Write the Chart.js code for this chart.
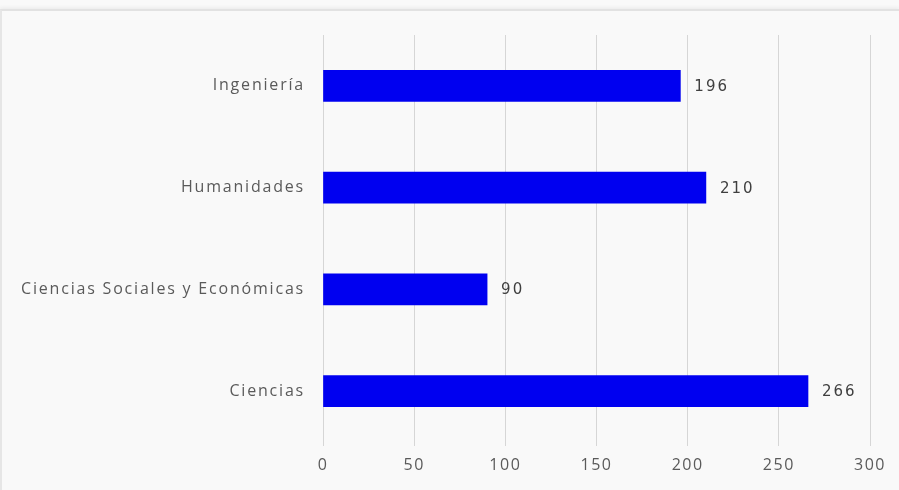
<!DOCTYPE html>
<html>
<head>
<meta charset="utf-8">
<script src="https://cdn.jsdelivr.net/npm/chart.js@4"></script>
<style>
  html, body { margin: 0; padding: 0; background: #f9f9f9; width: 899px; height: 490px; overflow: hidden; }
  #frame { position: absolute; left: 0; top: 9px; width: 897px; height: 481px; border-top: 2px solid #e2e2e2; border-left: 2px solid #e6e6e6; box-shadow: 0 -2px 3px #eeeeee; }
  #wrap { position: absolute; left: 0; top: 0; width: 899px; height: 490px; }
</style>
</head>
<body>
<div id="frame"></div>
<div id="wrap"><canvas id="c" width="899" height="490"></canvas></div>
<script>
const categories = ["Ingeniería", "Humanidades", "Ciencias Sociales y Económicas", "Ciencias"];
const values = [196, 210, 90, 266];
const xTicks = [0, 50, 100, 150, 200, 250, 300];

function spacedLabels(spacing) {
  return function (scale) {
    if (scale._spacedPatched) return;
    const orig = scale.drawLabels;
    scale.drawLabels = function (area) {
      const ctx = this.ctx;
      ctx.save();
      if ('letterSpacing' in ctx) ctx.letterSpacing = spacing;
      orig.call(this, area);
      ctx.restore();
    };
    scale._spacedPatched = true;
  };
}

const valueLabels = {
  id: 'valueLabels',
  afterDatasetsDraw(chart) {
    const ctx = chart.ctx;
    const meta = chart.getDatasetMeta(0);
    ctx.save();
    ctx.font = '15px "DejaVu Sans"';
    ctx.fillStyle = '#3f3f3f';
    ctx.textBaseline = 'middle';
    ctx.textAlign = 'left';
    if ('letterSpacing' in ctx) ctx.letterSpacing = '2px';
    meta.data.forEach((bar, i) => {
      ctx.fillText(String(values[i]), bar.x + 14, bar.y + 1);
    });
    ctx.restore();
  }
};

new Chart(document.getElementById('c'), {
  type: 'bar',
  data: {
    labels: categories,
    datasets: [{
      data: values,
      backgroundColor: '#0000f0',
      borderWidth: 0,
      barThickness: 31
    }]
  },
  options: {
    indexAxis: 'y',
    responsive: false,
    animation: false,
    layout: { padding: { left: 0, right: 29, top: 35, bottom: 0 } },
    plugins: { legend: { display: false }, tooltip: { enabled: false } },
    scales: {
      x: {
        min: 0, max: 300,
        afterBuildTicks(scale) { scale.ticks = xTicks.map(v => ({ value: v })); },
        grid: { color: '#d6d6d6', lineWidth: 1, drawTicks: true, tickLength: 4 },
        border: { display: false },
        ticks: { color: '#5a5a5a', font: { family: 'Open Sans', size: 16 }, padding: 10 },
        afterFit(scale) { scale.height = 48; },
        afterUpdate: spacedLabels('1.5px')
      },
      y: {
        grid: { display: false },
        border: { display: false },
        ticks: { color: '#5a5a5a', font: { family: 'Open Sans', size: 16 }, padding: 10 },
        afterFit(scale) { scale.width = 323; },
        afterUpdate: spacedLabels('1.8px')
      }
    }
  },
  plugins: [valueLabels]
});
</script>
</body>
</html>
